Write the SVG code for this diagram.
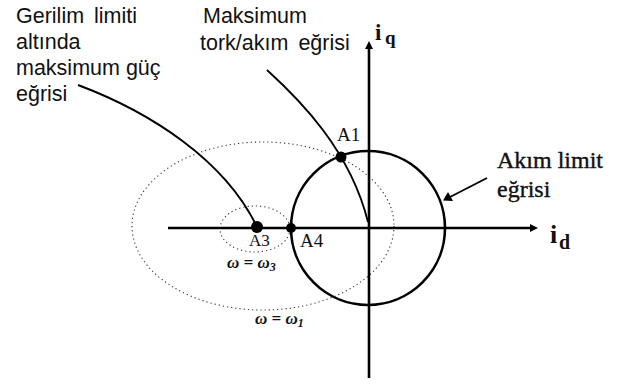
<svg xmlns="http://www.w3.org/2000/svg" width="630" height="384" viewBox="0 0 630 384">
<defs>
<style>
.sans{font-family:"Liberation Sans",Arial,sans-serif;font-size:21.5px;fill:#111}
.serif{font-family:"Liberation Serif","Times New Roman",serif;fill:#111}
.axis{stroke:#000;stroke-width:2.6;fill:none}
.curve{stroke:#000;stroke-width:1.9;fill:none}
.dotted{stroke:#333;stroke-width:1.1;fill:none;stroke-dasharray:1.2 3}
.pt{fill:#000}
.head{fill:#000}
</style>
</defs>
<rect width="630" height="384" fill="#fff"/>

<g id="ellipses">
<ellipse class="dotted" cx="263" cy="226" rx="131" ry="84"/>
<ellipse class="dotted" cx="255" cy="229" rx="35" ry="23"/>
</g>

<g id="axes">
<line class="axis" x1="168" y1="228" x2="532" y2="228"/>
<polygon class="head" points="538,228 530,224 530,232"/>
<line class="axis" x1="369" y1="378" x2="369" y2="47"/>
<polygon class="head" points="369,41 365,49 373,49"/>
</g>

<g id="current-limit-circle">
<circle cx="368" cy="228" r="77" stroke="#000" stroke-width="2.6" fill="none"/>
</g>

<g id="connectors">
<path class="curve" d="M78,85 C150,112 225,160 257,227"/>
<path class="curve" d="M267,70 C300,100 350,150 368,222"/>
<line class="curve" x1="487" y1="178" x2="450" y2="197" stroke-width="2.4"/>
<polygon class="head" points="443,200.5 448,192 453,201"/>
</g>

<g id="points">
<circle class="pt" cx="341" cy="157" r="5.5"/>
<circle class="pt" cx="257" cy="227" r="6"/>
<circle class="pt" cx="291" cy="228" r="5"/>
</g>

<g id="label-gerilim">
<text class="sans" x="16" y="23" word-spacing="4">Gerilim limiti</text>
<text class="sans" x="16" y="49">altında</text>
<text class="sans" x="16" y="75">maksimum güç</text>
<text class="sans" x="16" y="101">eğrisi</text>
</g>

<g id="label-maksimum">
<text class="sans" x="203" y="23">Maksimum</text>
<text class="sans" x="200" y="50" word-spacing="4">tork/akım eğrisi</text>
</g>

<g id="label-akim">
<text class="serif" x="497" y="168" font-size="24" stroke="#111" stroke-width="0.4">Akım limit</text>
<text class="serif" x="497" y="197" font-size="24" stroke="#111" stroke-width="0.4">eğrisi</text>
</g>

<g id="label-iq">
<text class="serif" x="375" y="40" font-size="23" font-weight="bold">i</text>
<text class="serif" x="385" y="44" font-size="19" font-weight="bold">q</text>
</g>

<g id="label-id">
<text class="serif" x="550" y="243" font-size="26" font-weight="bold">i</text>
<text class="serif" x="559" y="249" font-size="20" font-weight="bold">d</text>
</g>

<g id="point-labels">
<text class="serif" x="337" y="141" font-size="19">A1</text>
<text class="serif" x="249" y="246" font-size="17">A3</text>
<text class="serif" x="300" y="247" font-size="19">A4</text>
</g>

<g id="omega-labels">
<text class="serif" x="227" y="268" font-size="17" font-style="italic" font-weight="bold">ω = ω<tspan font-size="12" dy="3">3</tspan></text>
<text class="serif" x="255" y="324" font-size="17" font-style="italic" font-weight="bold">ω = ω<tspan font-size="12" dy="3">1</tspan></text>
</g>
</svg>
